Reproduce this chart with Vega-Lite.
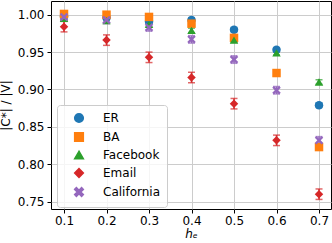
{
  "$schema": "https://vega.github.io/schema/vega-lite/v6.json",
  "width": 280,
  "height": 208,
  "autosize": "none",
  "padding": {"left": 51, "top": 1, "right": 1, "bottom": 34},
  "config": {
    "font": "DejaVu Sans",
    "view": {"stroke": "#000", "strokeWidth": 1},
    "axis": {"labelFont": "DejaVu Sans", "labelFontSize": 12, "labelColor": "#000", "titleFont": "DejaVu Sans", "titleFontSize": 12, "titleFontWeight": "normal", "titleColor": "#000", "gridColor": "#cccccc", "gridWidth": 1, "domain": false, "tickColor": "#000", "tickSize": 4},
    "legend": {"title": null, "orient": "none", "legendX": 6, "legendY": 104, "labelFontSize": 12, "labelFont": "DejaVu Sans", "labelColor": "#000", "symbolSize": 75, "rowPadding": 3, "labelOffset": 18, "padding": 7, "strokeColor": "#cccccc", "fillColor": "rgba(255,255,255,0.8)", "cornerRadius": 3, "offset": 0, "symbolOffset": 9, "symbolOpacity": 1}
  },
  "data": {"values": [
    {"s": "ER", "x": 0.1, "y": 0.998, "e": 0.003},
    {"s": "ER", "x": 0.2, "y": 0.996, "e": 0.003},
    {"s": "ER", "x": 0.3, "y": 0.991, "e": 0.003},
    {"s": "ER", "x": 0.4, "y": 0.993, "e": 0.003},
    {"s": "ER", "x": 0.5, "y": 0.980, "e": 0.003},
    {"s": "ER", "x": 0.6, "y": 0.953, "e": 0.003},
    {"s": "ER", "x": 0.7, "y": 0.879, "e": 0.003},
    {"s": "BA", "x": 0.1, "y": 1.001, "e": 0.003},
    {"s": "BA", "x": 0.2, "y": 1.000, "e": 0.003},
    {"s": "BA", "x": 0.3, "y": 0.997, "e": 0.003},
    {"s": "BA", "x": 0.4, "y": 0.988, "e": 0.003},
    {"s": "BA", "x": 0.5, "y": 0.969, "e": 0.003},
    {"s": "BA", "x": 0.6, "y": 0.922, "e": 0.003},
    {"s": "BA", "x": 0.7, "y": 0.823, "e": 0.003},
    {"s": "Facebook", "x": 0.1, "y": 0.995, "e": 0.003},
    {"s": "Facebook", "x": 0.2, "y": 0.992, "e": 0.003},
    {"s": "Facebook", "x": 0.3, "y": 0.987, "e": 0.003},
    {"s": "Facebook", "x": 0.4, "y": 0.979, "e": 0.003},
    {"s": "Facebook", "x": 0.5, "y": 0.966, "e": 0.003},
    {"s": "Facebook", "x": 0.6, "y": 0.949, "e": 0.003},
    {"s": "Facebook", "x": 0.7, "y": 0.910, "e": 0.003},
    {"s": "Email", "x": 0.1, "y": 0.984, "e": 0.007},
    {"s": "Email", "x": 0.2, "y": 0.966, "e": 0.007},
    {"s": "Email", "x": 0.3, "y": 0.943, "e": 0.007},
    {"s": "Email", "x": 0.4, "y": 0.916, "e": 0.007},
    {"s": "Email", "x": 0.5, "y": 0.881, "e": 0.007},
    {"s": "Email", "x": 0.6, "y": 0.832, "e": 0.007},
    {"s": "Email", "x": 0.7, "y": 0.760, "e": 0.007},
    {"s": "California", "x": 0.1, "y": 0.997, "e": 0.005},
    {"s": "California", "x": 0.2, "y": 0.993, "e": 0.005},
    {"s": "California", "x": 0.3, "y": 0.983, "e": 0.005},
    {"s": "California", "x": 0.4, "y": 0.967, "e": 0.005},
    {"s": "California", "x": 0.5, "y": 0.940, "e": 0.005},
    {"s": "California", "x": 0.6, "y": 0.899, "e": 0.005},
    {"s": "California", "x": 0.7, "y": 0.832, "e": 0.005}
  ]},
  "transform": [
    {"calculate": "datum.y - datum.e", "as": "lo"},
    {"calculate": "datum.y + datum.e", "as": "hi"}
  ],
  "encoding": {
    "x": {"field": "x", "type": "quantitative", "scale": {"domain": [0.0694, 0.7282], "nice": false, "zero": false},
      "axis": {"values": [0.1, 0.2, 0.3, 0.4, 0.5, 0.6, 0.7], "format": ".1f", "title": "hₑ", "titleFontStyle": "italic", "titleFontSize": 12, "titlePadding": 2, "labelPadding": 2}},
    "color": {"field": "s", "type": "nominal", "scale": {"domain": ["ER", "BA", "Facebook", "Email", "California"], "range": ["#1f77b4", "#ff7f0e", "#2ca02c", "#d62728", "#9467bd"]}}
  },
  "layer": [
    {"mark": {"type": "rule", "strokeWidth": 1.5},
     "encoding": {
       "y": {"field": "lo", "type": "quantitative", "scale": {"domain": [0.7402, 1.0183], "nice": false, "zero": false},
         "axis": {"values": [0.75, 0.8, 0.85, 0.9, 0.95, 1.0], "format": ".2f", "title": "|C*| / |V|", "titlePadding": 5, "labelPadding": 3}},
       "y2": {"field": "hi"}}},
    {"mark": {"type": "tick", "orient": "horizontal", "size": 7, "thickness": 1.5},
     "encoding": {"y": {"field": "lo", "type": "quantitative"}}},
    {"mark": {"type": "tick", "orient": "horizontal", "size": 7, "thickness": 1.5},
     "encoding": {"y": {"field": "hi", "type": "quantitative"}}},
    {"mark": {"type": "point", "filled": true, "opacity": 1, "size": 72},
     "encoding": {
       "y": {"field": "y", "type": "quantitative"},
       "shape": {"field": "s", "type": "nominal",
         "scale": {"domain": ["ER", "BA", "Facebook", "Email", "California"], "range": ["circle", "square", "triangle-up", "diamond", "M-1,-0.6L-0.6,-1L0,-0.4L0.6,-1L1,-0.6L0.4,0L1,0.6L0.6,1L0,0.4L-0.6,1L-1,0.6L-0.4,0Z"]}}}}
  ]
}
